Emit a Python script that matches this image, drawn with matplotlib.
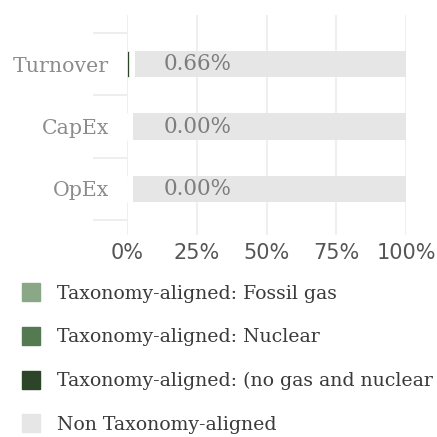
import matplotlib
matplotlib.use("Agg")
import matplotlib.pyplot as plt
from matplotlib.lines import Line2D
from matplotlib.transforms import offset_copy
import numpy as np

categories = ["Turnover", "CapEx", "OpEx"]
fossil_gas = [0.0, 0.0, 0.0]
nuclear = [0.0, 0.0, 0.0]
no_gas_nuclear = [0.66, 0.0, 0.0]
non_aligned = [99.34, 100.0, 100.0]
value_labels = ["0.66%", "0.00%", "0.00%"]
x_ticks = [0, 25, 50, 75, 100]
x_tick_labels = ["0%", "25%", "50%", "75%", "100%"]
series_names = ["Taxonomy-aligned: Fossil gas", "Taxonomy-aligned: Nuclear",
                "Taxonomy-aligned: (no gas and nuclear", "Non Taxonomy-aligned"]
colors = ["#8aa888", "#537a50", "#2c4427", "#e6e6e6"]

fig = plt.figure(figsize=(4.37, 4.37), dpi=100)
ax = fig.add_axes([127/437, 1-235/437, (406-127)/437, (235-15)/437])

y = np.arange(len(categories))
h = 0.42
left = np.zeros(len(categories))
for vals, c in zip([fossil_gas, nuclear, no_gas_nuclear], colors[:3]):
    ax.barh(y, vals, left=left, height=h, color=c, edgecolor="white", linewidth=0.5, zorder=3)
    left = left + np.array(vals)
tr = offset_copy(ax.transData, fig=fig, x=6, y=0, units="dots")
ax.barh(y, non_aligned, left=left, height=h, color=colors[3], linewidth=0, zorder=3, transform=tr)

for yi, lab in zip(y, value_labels):
    ax.text(13, yi, lab, va="center", ha="left", fontsize=15.5, family="DejaVu Serif",
            color="#7d7d7d", zorder=4)

ax.set_xlim(0, 100)
ax.set_ylim(2.74, -0.79)
ax.set_xticks(x_ticks)
ax.set_xticklabels(x_tick_labels, fontsize=15, color="#555555", family="DejaVu Sans")
ax.set_yticks(y)
ax.set_yticklabels(categories, fontsize=14.8, color="#8c8c8c", family="DejaVu Serif")
ax.set_yticks(np.arange(len(categories)+1) - 0.5, minor=True)
ax.tick_params(axis="x", length=0, pad=6)
ax.tick_params(axis="y", which="major", length=0, pad=13)
ax.tick_params(axis="y", which="minor", length=24.5, width=1.2, color="#ebebeb", direction="out")
for s in ax.spines.values():
    s.set_visible(False)
ax.grid(axis="x", color="#efefef", linewidth=1.5, zorder=0)
ax.set_axisbelow(True)

handles = [Line2D([], [], marker="s", linestyle="none", markersize=13,
                  markerfacecolor=c, markeredgecolor=c) for c in colors]
leg = fig.legend(handles, series_names, loc="upper left", bbox_to_anchor=(20/437, 1-285/437),
                 frameon=False, prop={"family": "DejaVu Serif", "size": 13.6},
                 labelspacing=1.35, handletextpad=0.78, borderaxespad=0, borderpad=0,
                 handlelength=1.2)
for t in leg.get_texts():
    t.set_color("#3a3a3a")

fig.savefig("out.png", dpi=100)
